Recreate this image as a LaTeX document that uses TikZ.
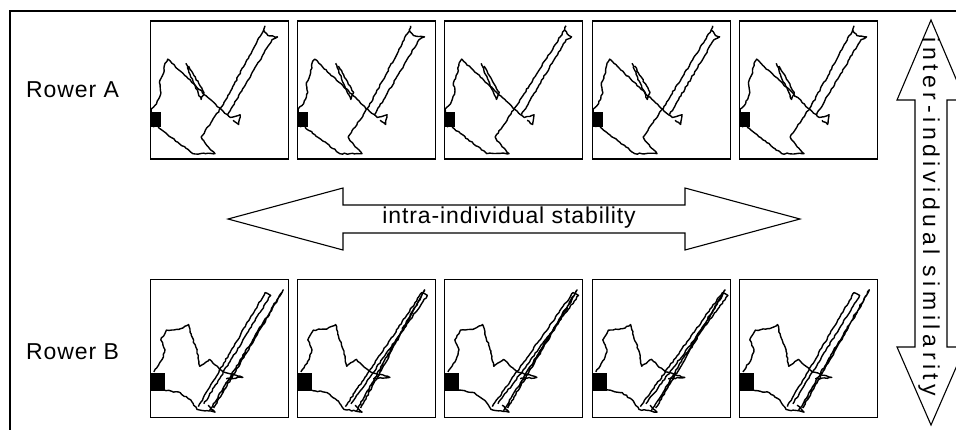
\documentclass[tikz,border=0pt]{standalone}
\usepackage{fontspec}
\setmainfont[LetterSpace=4]{Liberation Sans}
\newfontfamily\widefont[LetterSpace=20]{Liberation Sans}
\usetikzlibrary{positioning,decorations.pathmorphing}

\tikzset{
  trace/.style={line width=1.4pt, line join=round,
    decorate, decoration={random steps, segment length=2.5pt, amplitude=0.6pt}},
  plotbox/.style={draw, line width=1.6pt, minimum size=138pt, inner sep=0pt},
  lbl/.style={font=\fontsize{23}{27}\selectfont, inner sep=0pt},
  bigarrow/.style={draw, line width=1.1pt, line join=miter},
  % trace of rower A: #1 = tip of long stroke, #2 = shift of middle pair
  pics/rowerA/.style 2 args={code={
    \fill (1,66) rectangle (8,77);
    \draw[trace] (3,77) -- (1,64) -- (5,60) -- (8,52) -- (7,45) -- (10,38) -- (11,31)
      -- (13,28) -- (16,31) -- (54,67) -- (58,70) -- (65,68) -- (64,75) -- (60,72);
    \draw[trace] (26+#2,31) -- (29+#2,39) -- (37+#2,57) -- (39+#2,52) -- (28+#2,33);
    \draw[trace] (6,77) -- (31,96) -- (47,96) -- (42,91) -- (38,86) -- (37,84)
      -- (52,62) -- (#1,7) -- (#1+3,11) -- (92,12) -- (88,14) -- (56,68);
    \draw[trace] (#1,7) -- (#1+1,4);
  }},
  % trace of rower B: #1 and #2 = tips of the two long strokes
  pics/rowerB/.style 2 args={code={
    \fill (0,68) rectangle (11,81);
    \draw[trace] (3,67) -- (9,58) -- (11,51) -- (8,44) -- (12,37) -- (22,36) -- (28,33)
      -- (30,41) -- (34,52) -- (36,63) -- (43,58) -- (47,62) -- (53,67) -- (67,71) -- (55,72);
    \draw[trace] (10,80) -- (22,82) -- (30,88) -- (34,94) -- (47,96) -- (42,91);
    \draw[trace] (35,92) -- (#1,10) -- (#1+4,12) -- (39,90);
    \draw[trace] (43,95) -- (#2,8) -- (#2-2,12) -- (46,93);
  }},
}

\begin{document}
\begin{tikzpicture}[x=1pt, y=-1pt]
\useasboundingbox (0,0) rectangle (956,429);

% outer frame
\draw[line width=1.8pt] (10,433) -- (10,11) -- (962,11);

% plot boxes
\foreach \i/\x in {1/219.5, 2/366.5, 3/513.5, 4/661.5, 5/808.5} {
  \node[plotbox] (a\i) at (\x,90) {};
  \node[plotbox] (b\i) at (\x,348.5) {};
}

\pic[scale=1.39] at (a1.north west) {rowerA={82}{0}};
\pic[scale=1.39] at (a2.north west) {rowerA={81}{2}};
\pic[scale=1.39] at (a3.north west) {rowerA={87}{1}};
\pic[scale=1.39] at (a4.north west) {rowerA={86}{3}};
\pic[scale=1.39] at (a5.north west) {rowerA={82}{1}};

\pic[scale=1.39] at (b1.north west) {rowerB={83}{96}};
\pic[scale=1.39] at (b2.north west) {rowerB={90}{92}};
\pic[scale=1.39] at (b3.north west) {rowerB={93}{96}};
\pic[scale=1.39] at (b4.north west) {rowerB={94}{96}};
\pic[scale=1.39] at (b5.north west) {rowerB={83}{94}};

% row labels
\node[lbl, anchor=west] (rowA) at (26,90) {Rower A};
\node[lbl, anchor=west] (rowB) at (26,352) {Rower B};

% intra-individual arrow
\draw[bigarrow] (228,219) -- (343,188) -- (343,205) -- (685,205) -- (685,188)
  -- (800,219) -- (685,250) -- (685,233) -- (343,233) -- (343,250) -- cycle;
\node[lbl] (stab) at (509,218) {intra-individual stability};

% inter-individual arrow
\draw[bigarrow] (931,20) -- (965,100) -- (947,100) -- (947,347) -- (965,347)
  -- (931,425) -- (897,347) -- (915,347) -- (915,100) -- (897,100) -- cycle;
\node[lbl, rotate=-90] (simil) at (929,217) {\widefont inter-individual similarity};
\end{tikzpicture}
\end{document}
